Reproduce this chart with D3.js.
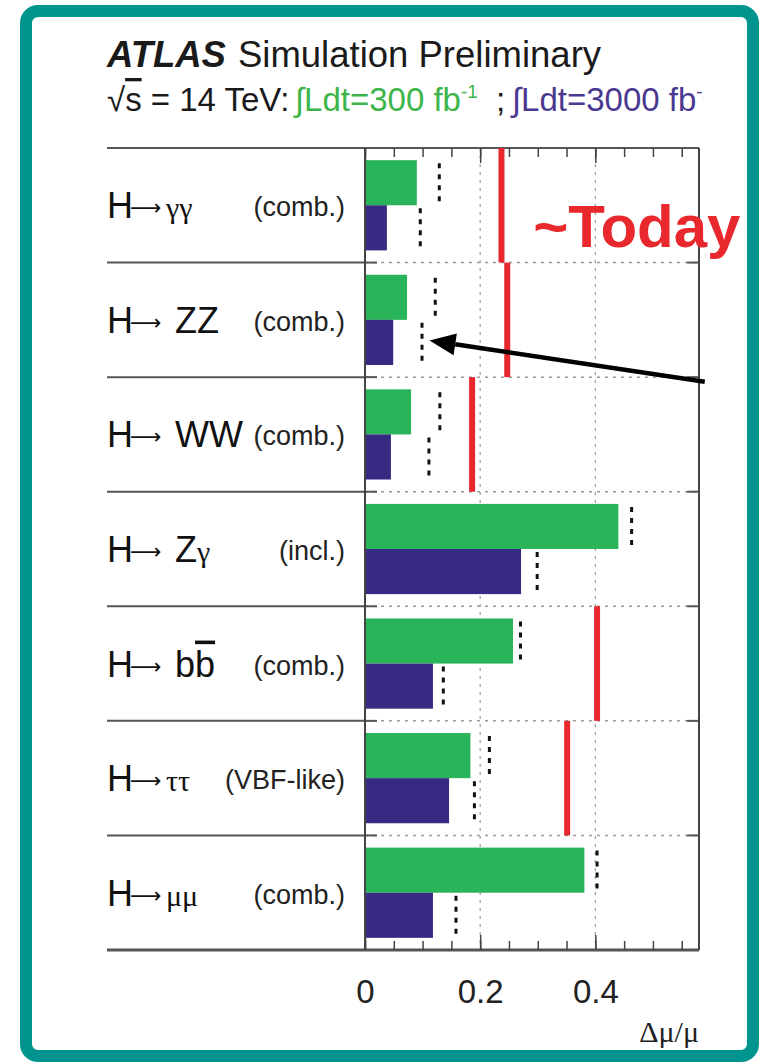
<html>
<head>
<script src="https://d3js.org/d3.v7.min.js"></script>
<style>
  body { margin: 0; background: white; }
  svg text { font-family: 'Liberation Sans', Arial, Helvetica, sans-serif; }
  .greek { font-family: 'Liberation Serif', 'DejaVu Serif', serif; }
  .arrow { font-family: 'DejaVu Sans', sans-serif; }
</style>
</head>
<body>
<svg id="chart" width="767" height="1063"></svg>
<script>
// channels, top to bottom
const channels = ["H→γγ", "H→ZZ", "H→WW", "H→Zγ", "H→bb", "H→ττ", "H→μμ"];
const finalStates = ["γγ", "ZZ", "WW", "Zγ", "bb", "ττ", "μμ"];
const modes = ["(comb.)", "(comb.)", "(comb.)", "(incl.)", "(comb.)", "(VBF-like)", "(comb.)"];

// Δμ/μ : bars = without theory unc., dashed = with current theory unc.
const lumi300 = [0.090, 0.073, 0.080, 0.440, 0.257, 0.183, 0.381];
const lumi3000 = [0.038, 0.049, 0.045, 0.271, 0.118, 0.146, 0.118];
const dashed300 = [0.129, 0.122, 0.130, 0.463, 0.270, 0.216, 0.403];
const dashed3000 = [0.096, 0.099, 0.111, 0.299, 0.136, 0.190, 0.158];
const today = [0.237, 0.247, 0.186, null, 0.403, 0.351, null];

const xTicks = [0, 0.2, 0.4];

const svg = d3.select("#chart");
const pLeft = 365, pRight = 699, pTop = 148, pBottom = 950, labelLeft = 107;
const green = "#29b45a", navy = "#362a82", red = "#e8282c", teal = "#00948f";

const x = d3.scaleLinear().domain([0, 0.58]).range([pLeft, pRight]);
const y = d3.scaleBand().domain(channels).range([pTop, pBottom]);
const sub = d3.scaleBand().domain(["300", "3000"]).range([0, y.bandwidth()]).paddingOuter(0.27);

// frame border (teal)
svg.append("rect")
  .attr("x", 26).attr("y", 11).attr("width", 727).attr("height", 1045)
  .attr("rx", 12).attr("fill", "white")
  .attr("stroke", teal).attr("stroke-width", 12);

// header
const title = svg.append("text").attr("x", labelLeft).attr("y", 67).attr("font-size", 36.5).attr("fill", "#1a1a1a");
title.append("tspan").attr("font-weight", "bold").attr("font-style", "italic").text("ATLAS");
title.append("tspan").attr("dx", 12).text("Simulation Preliminary");

svg.append("clipPath").attr("id", "hdrclip").append("rect")
  .attr("x", 0).attr("y", 0).attr("width", 704).attr("height", 140);
const sub1 = svg.append("text").attr("clip-path", "url(#hdrclip)")
  .attr("x", labelLeft).attr("y", 111).attr("font-size", 33).attr("fill", "#1a1a1a");
sub1.append("tspan").text("√");
sub1.append("tspan").style("text-decoration", "overline").text("s");
sub1.append("tspan").text(" = 14 TeV:");
sub1.append("tspan").attr("x", 295).attr("fill", "#3db54a").text("∫Ldt=300 fb");
sub1.append("tspan").attr("fill", "#3db54a").attr("font-size", 19).attr("dy", -13).text("-1");
sub1.append("tspan").attr("x", 496).attr("dy", 13).text(";");
sub1.append("tspan").attr("x", 512).attr("fill", "#4a3990").text("∫Ldt=3000 fb");
sub1.append("tspan").attr("fill", "#4a3990").attr("font-size", 19).attr("dy", -13).text("-1");

// row separators in the label area
const seps = channels.map(c => y(c)).concat([pBottom]);
svg.append("g").selectAll("line").data(seps).join("line")
  .attr("x1", labelLeft).attr("x2", (d, i) => (i === 0 || i === seps.length - 1) ? pRight : pLeft)
  .attr("y1", d => d).attr("y2", d => d)
  .attr("stroke", "#555").attr("stroke-width", (d, i) => i === seps.length - 1 ? 3 : 2);

// dotted separators inside the plot
svg.append("g").selectAll("line").data(seps.slice(1, -1)).join("line")
  .attr("x1", pLeft).attr("x2", pRight).attr("y1", d => d).attr("y2", d => d)
  .attr("stroke", "#9a9a9a").attr("stroke-width", 1.5).attr("stroke-dasharray", "3,5");
// y ticks on both sides
svg.append("g").selectAll("line").data(seps.slice(1, -1).flatMap(d => [[pLeft, pLeft + 12, d], [pRight - 12, pRight, d]])).join("line")
  .attr("x1", d => d[0]).attr("x2", d => d[1]).attr("y1", d => d[2]).attr("y2", d => d[2])
  .attr("stroke", "#555").attr("stroke-width", 2);

// vertical grid
svg.append("g").selectAll("line").data(xTicks.slice(1)).join("line")
  .attr("x1", d => x(d)).attr("x2", d => x(d)).attr("y1", pTop).attr("y2", pBottom)
  .attr("stroke", "#9a9a9a").attr("stroke-width", 1.2).attr("stroke-dasharray", "3,5");

// bars
const rows = svg.append("g").selectAll("g").data(channels).join("g")
  .attr("transform", d => `translate(0,${y(d)})`);
rows.append("rect")
  .attr("x", x(0)).attr("y", sub("300"))
  .attr("width", (d, i) => x(lumi300[i]) - x(0)).attr("height", sub.bandwidth())
  .attr("fill", green);
rows.append("rect")
  .attr("x", x(0)).attr("y", sub("3000"))
  .attr("width", (d, i) => x(lumi3000[i]) - x(0)).attr("height", sub.bandwidth())
  .attr("fill", navy);
rows.append("line")
  .attr("x1", (d, i) => x(dashed300[i])).attr("x2", (d, i) => x(dashed300[i]))
  .attr("y1", sub("300") + 3).attr("y2", sub("300") + sub.bandwidth())
  .attr("stroke", "#111").attr("stroke-width", 3).attr("stroke-dasharray", "5,6");
rows.append("line")
  .attr("x1", (d, i) => x(dashed3000[i])).attr("x2", (d, i) => x(dashed3000[i]))
  .attr("y1", sub("3000") + 3).attr("y2", sub("3000") + sub.bandwidth())
  .attr("stroke", "#111").attr("stroke-width", 3).attr("stroke-dasharray", "5,6");
rows.filter((d, i) => today[i] !== null).append("line")
  .attr("x1", d => x(today[channels.indexOf(d)])).attr("x2", d => x(today[channels.indexOf(d)]))
  .attr("y1", 0).attr("y2", y.bandwidth())
  .attr("stroke", red).attr("stroke-width", 6);

// channel labels
rows.each(function (d, i) {
  const g = d3.select(this);
  const base = y.bandwidth() / 2 + 13;
  const t = g.append("text").attr("x", labelLeft).attr("y", base).attr("font-size", 36).attr("fill", "#111");
  t.append("tspan").text("H");
  t.append("tspan").attr("class", "arrow").attr("font-size", 22).attr("dx", -3).attr("dy", -3).text("⟶");
  const fs = finalStates[i];
  const isGreek = /^[γτμ]/.test(fs);
  const p = t.append("tspan").attr("x", isGreek ? 166 : 175).attr("dy", 3);
  if (fs === "Zγ") {
    p.text("Z");
    t.append("tspan").attr("class", "greek").attr("font-size", 30).text("γ");
  } else if (fs === "bb") {
    p.text("b");
    t.append("tspan").style("text-decoration", "overline").text("b");
  } else if (isGreek) {
    p.attr("class", "greek").attr("font-size", 30).text(fs);
  } else {
    p.text(fs);
  }
  g.append("text").attr("x", 345).attr("y", y.bandwidth() / 2 + 11)
    .attr("text-anchor", "end").attr("font-size", 27).attr("fill", "#222").text(modes[i]);
});

// x axis: minor and major ticks, bottom and top
const minor = d3.range(0, 0.5801, 0.05);
const axB = svg.append("g").attr("transform", `translate(0,${pBottom})`)
  .call(d3.axisBottom(x).tickValues(minor).tickSize(-9).tickFormat(""));
const axBm = svg.append("g").attr("transform", `translate(0,${pBottom})`)
  .call(d3.axisBottom(x).tickValues(xTicks).tickSize(-15).tickPadding(30).tickFormat(d3.format("")));
const axT = svg.append("g").attr("transform", `translate(0,${pTop})`)
  .call(d3.axisTop(x).tickValues(minor).tickSize(-9).tickFormat(""));
const axTm = svg.append("g").attr("transform", `translate(0,${pTop})`)
  .call(d3.axisTop(x).tickValues(xTicks).tickSize(-15).tickFormat(""));
[axB, axBm, axT, axTm].forEach(a => {
  a.select(".domain").remove();
  a.selectAll("line").attr("stroke", "#444").attr("stroke-width", 1.5);
});
axBm.selectAll("text").attr("font-size", 33).attr("fill", "#222")
  .attr("font-family", "'Liberation Sans', Arial, sans-serif");

// plot frame
svg.append("line").attr("x1", pLeft).attr("x2", pLeft).attr("y1", pTop).attr("y2", pBottom).attr("stroke", "#444").attr("stroke-width", 2);
svg.append("line").attr("x1", pRight).attr("x2", pRight).attr("y1", pTop).attr("y2", pBottom).attr("stroke", "#444").attr("stroke-width", 2);

svg.append("text").attr("class", "greek").attr("x", pRight).attr("y", 1042)
  .attr("text-anchor", "end").attr("font-size", 30).attr("fill", "#222").text("Δμ/μ");

// annotation: ~Today and arrow
svg.append("text").attr("x", x(0.292)).attr("y", y("H→γγ") + 0.86 * y.bandwidth())
  .attr("font-size", 60).attr("font-weight", "bold").attr("fill", red).text("~Today");

const tip = [x(0.112), y("H→ZZ") + 0.68 * y.bandwidth()];
const tail = [x(0.59), y("H→WW") + 0.04 * y.bandwidth()];
const ang = Math.atan2(tip[1] - tail[1], tip[0] - tail[0]);
const headLen = 26, headW = 11;
const back = [tip[0] - headLen * Math.cos(ang), tip[1] - headLen * Math.sin(ang)];
svg.append("line").attr("x1", tail[0]).attr("y1", tail[1]).attr("x2", back[0]).attr("y2", back[1])
  .attr("stroke", "black").attr("stroke-width", 4.5);
svg.append("path").attr("fill", "black").attr("d", d3.line()([
  tip,
  [back[0] + headW * Math.sin(ang), back[1] - headW * Math.cos(ang)],
  [back[0] - headW * Math.sin(ang), back[1] + headW * Math.cos(ang)]
]) + "Z");
</script>
</body>
</html>
